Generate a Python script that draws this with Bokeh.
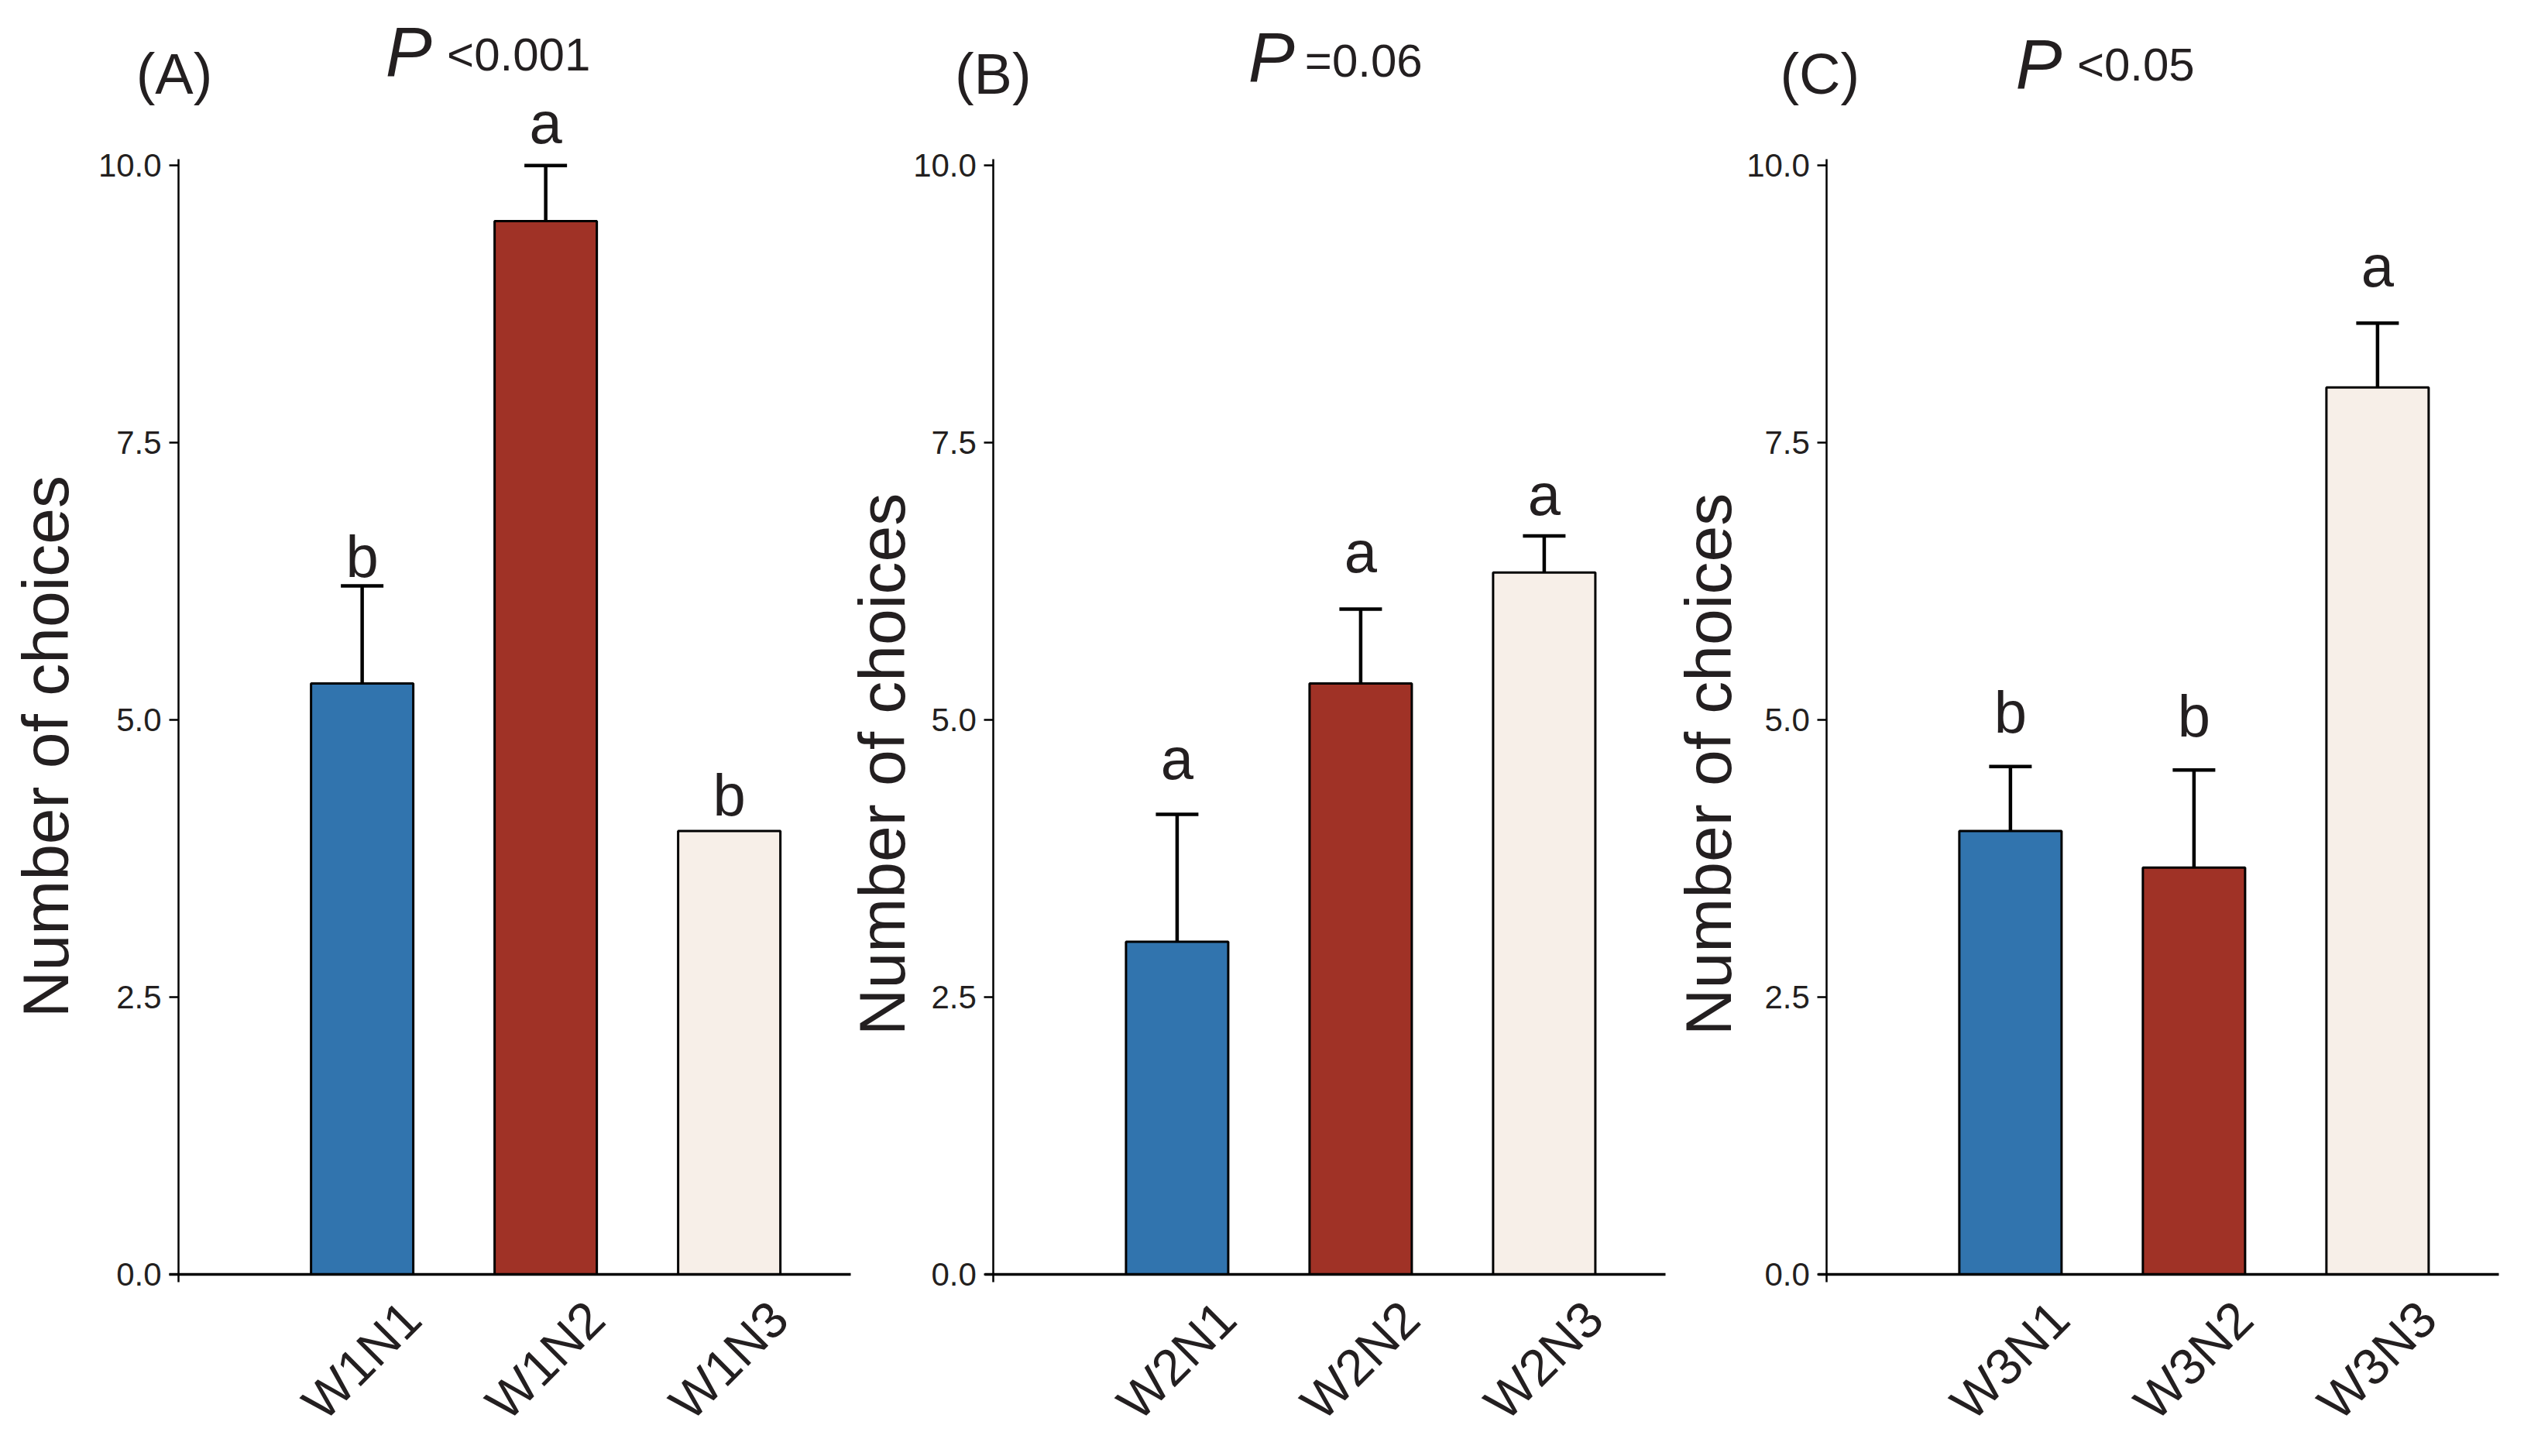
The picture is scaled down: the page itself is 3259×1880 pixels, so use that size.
import math
from bokeh.plotting import figure
from bokeh.models import (Range1d, FixedTicker, PrintfTickFormatter, LinearAxis,
                          Whisker, TeeHead, ColumnDataSource)
from bokeh.embed import file_html
from bokeh.resources import INLINE
from bokeh.core.properties import value

# ---------------- data ----------------
panel_tags = ["(A)", "(B)", "(C)"]
p_stat = ["<0.001", "=0.06", "<0.05"]
categories = [["W1N1", "W1N2", "W1N3"],
              ["W2N1", "W2N2", "W2N3"],
              ["W3N1", "W3N2", "W3N3"]]
means = [[5.33, 9.50, 4.00],
         [3.00, 5.33, 6.33],
         [4.00, 3.67, 8.00]]
errors = [[0.88, 0.50, 0.00],
          [1.15, 0.67, 0.33],
          [0.58, 0.88, 0.58]]
letters = [["b", "a", "b"],
           ["a", "a", "a"],
           ["b", "b", "a"]]
letter_y = [[6.32, 10.23, 4.17],
            [4.50, 6.36, 6.88],
            [4.92, 4.88, 8.94]]
y_ticks = [0.0, 2.5, 5.0, 7.5, 10.0]
y_label = "Number of choices"
bar_colors = ["#3174ae", "#a03226", "#f7efe8"]

# ---------------- layout / style ----------------
FONT = "Liberation Sans"
TXT = "#231f20"
PX_X, PX_Y = 237.0, 143.2            # pixels per data unit
FRAME_W = 3243
X_START = -0.971
X_END = X_START + FRAME_W / PX_X
Y_START, Y_END = -0.16, 11.49
FRAME_H = int(round((Y_END - Y_START) * PX_Y))
BAR_W = 0.557
LABEL_SHIFT = 0.27
AXIS_LEN = 3.66
origins = [0.0, 4.44, 8.98]            # where each panel's y axis sits
tag_xy = [(-0.232, 10.62), (-0.211, 10.62), (-0.255, 10.62)]
p_xy = [(1.127, 10.80), (1.388, 10.75), (1.028, 10.69)]
stat_xy = [(1.462, 10.90), (1.696, 10.85), (1.363, 10.81)]
ylab_xy = [(-0.589, 4.76), (-0.473, 4.60), (-0.511, 4.60)]

p = figure(frame_width=FRAME_W, frame_height=FRAME_H,
           x_range=Range1d(X_START, X_END), y_range=Range1d(Y_START, Y_END),
           x_axis_type=None, y_axis_type=None,
           output_backend="svg", toolbar_location=None,
           min_border_left=0, min_border_right=0,
           min_border_top=0, min_border_bottom=1864 - FRAME_H)
p.background_fill_color = "white"
p.border_fill_color = "white"
p.outline_line_color = None
p.grid.visible = False

all_ticks, all_names = [], []
for k in range(3):
    o = origins[k]
    xs = [o + i + 1 for i in range(len(categories[k]))]

    # bars
    src = ColumnDataSource(dict(x=xs, top=means[k], color=bar_colors))
    p.vbar(x="x", top="top", bottom=0, width=BAR_W, fill_color="color",
           line_color="black", line_width=3, source=src)

    # error bars (only where error > 0)
    ex = [x for x, e in zip(xs, errors[k]) if e > 0]
    elo = [m for m, e in zip(means[k], errors[k]) if e > 0]
    ehi = [m + e for m, e in zip(means[k], errors[k]) if e > 0]
    esrc = ColumnDataSource(dict(base=ex, lower=elo, upper=ehi))
    p.add_layout(Whisker(base="base", lower="lower", upper="upper", source=esrc,
                         line_width=4.5, line_color="black",
                         upper_head=TeeHead(size=55, line_width=4.5,
                                            line_color="black"),
                         lower_head=None))

    # significance letters
    lsrc = ColumnDataSource(dict(x=xs, y=letter_y[k], t=letters[k]))
    p.text(x="x", y="y", text="t", source=lsrc, text_align="center",
           text_baseline="alphabetic", text_font=value(FONT),
           text_font_size="76px", text_color=TXT, y_offset=-22)

    # y axis of the panel
    ya = LinearAxis(fixed_location=o, bounds=(-0.07, 10.06),
                    ticker=FixedTicker(ticks=y_ticks),
                    formatter=PrintfTickFormatter(format="%.1f"))
    ya.axis_line_width = 2.5
    ya.axis_line_color = "black"
    ya.major_tick_line_width = 2.5
    ya.major_tick_line_color = "black"
    ya.major_tick_out = 12
    ya.major_tick_in = 0
    ya.minor_tick_line_color = None
    ya.major_label_text_font = FONT
    ya.major_label_text_font_size = "42px"
    ya.major_label_text_color = TXT
    ya.major_label_standoff = 10
    p.add_layout(ya, "left")

    # x axis line of the panel
    xl = LinearAxis(fixed_location=0, bounds=(o - 0.05, o + AXIS_LEN),
                    ticker=FixedTicker(ticks=[]))
    xl.axis_line_width = 3.5
    xl.axis_line_color = "black"
    xl.major_tick_line_color = None
    xl.minor_tick_line_color = None
    p.add_layout(xl, "below")

    for x, c in zip(xs, categories[k]):
        all_ticks.append(x + LABEL_SHIFT)
        all_names.append(c)

    # y label
    p.text(x=[o + ylab_xy[k][0]], y=[ylab_xy[k][1]], text=[y_label],
           angle=math.pi / 2, text_align="center", text_baseline="alphabetic",
           text_font=value(FONT), text_font_size="84px", text_color=TXT,
           x_offset=-32)
    # panel tag
    p.text(x=[o + tag_xy[k][0]], y=[tag_xy[k][1]], text=[panel_tags[k]],
           text_align="left", text_baseline="alphabetic",
           text_font=value(FONT), text_font_size="74px", text_color=TXT,
           y_offset=-30)
    # P value
    p.text(x=[o + p_xy[k][0]], y=[p_xy[k][1]], text=["P"],
           text_align="left", text_baseline="alphabetic",
           text_font=value(FONT), text_font_style="italic",
           text_font_size="90px", text_color=TXT, y_offset=-32)
    p.text(x=[o + stat_xy[k][0]], y=[stat_xy[k][1]], text=[p_stat[k]],
           text_align="left", text_baseline="alphabetic",
           text_font=value(FONT), text_font_size="60px", text_color=TXT,
           y_offset=-14)

# category labels (regular bottom axis, line hidden)
xa = LinearAxis(ticker=FixedTicker(ticks=all_ticks))
xa.major_label_overrides = {t: c for t, c in zip(all_ticks, all_names)}
xa.axis_line_color = None
xa.major_tick_line_color = None
xa.minor_tick_line_color = None
xa.major_label_orientation = math.pi / 4
xa.major_label_text_font = FONT
xa.major_label_text_font_size = "66px"
xa.major_label_text_color = TXT
xa.major_label_standoff = 17
p.add_layout(xa, "below")

open("out.html", "w").write(file_html(p, INLINE))
